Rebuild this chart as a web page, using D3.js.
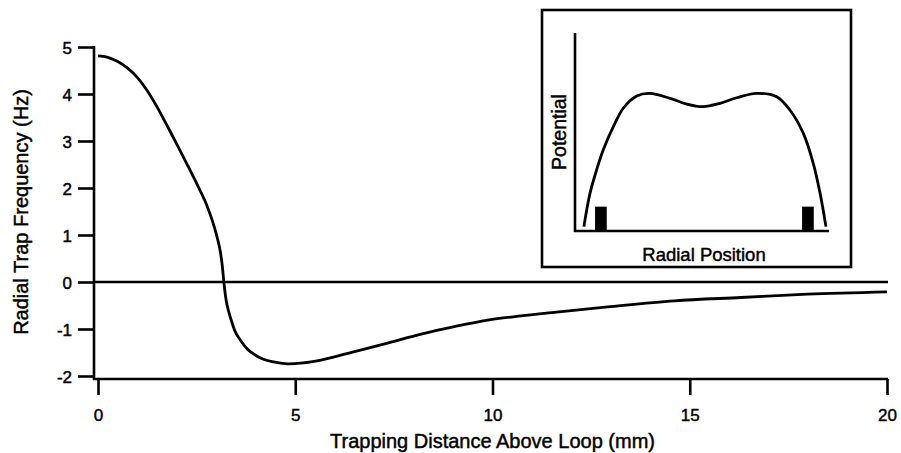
<!DOCTYPE html>
<html><head><meta charset="utf-8">
<script src="https://cdn.jsdelivr.net/npm/d3@7"></script>
<style>
html,body{margin:0;padding:0;background:#fff;}
svg{display:block;}
text{font-family:"Liberation Sans",Arial,Helvetica,sans-serif;fill:#000;stroke:#000;stroke-width:0.45px;}
</style></head>
<body>
<svg id="chart" width="901" height="453"></svg>
<script>
// Main curve: trapping distance (mm) vs radial trap frequency (Hz)
const distance = [0, 0.25, 0.5, 0.75, 1.0, 1.25, 1.5, 1.75, 2.0, 2.25, 2.5, 2.75, 2.9, 3.02, 3.1, 3.15, 3.19, 3.25, 3.31, 3.38, 3.46, 3.62, 3.79, 3.96, 4.21, 4.46, 4.81, 5.2, 5.65, 6.5, 7.34, 8.19, 9.03, 9.88, 10.72, 11.5, 12.92, 14.61, 16.3, 17.99, 20];
const frequency = [4.81, 4.78, 4.69, 4.55, 4.35, 4.07, 3.72, 3.33, 2.93, 2.52, 2.10, 1.65, 1.30, 0.95, 0.65, 0.35, 0.0, -0.4, -0.62, -0.82, -1.02, -1.25, -1.43, -1.54, -1.65, -1.70, -1.74, -1.72, -1.66, -1.48, -1.30, -1.11, -0.95, -0.81, -0.72, -0.65, -0.53, -0.40, -0.33, -0.26, -0.21];
const xTicks = [0, 5, 10, 15, 20];
const yTicks = [-2, -1, 0, 1, 2, 3, 4, 5];
const xTitle = "Trapping Distance Above Loop (mm)";
const yTitle = "Radial Trap Frequency (Hz)";

// Inset: schematic potential vs radial position
const radialPos = [3.5, 5.9, 8.5, 11.1, 15.1, 19.0, 24.3, 29.5, 37.4, 44.0, 50.5, 57.1, 63.7, 71.5, 79.4, 84.6, 89.9, 93.8, 96.5, 98.8];
const potential = [2.2, 19.0, 30.8, 40.9, 52.7, 62.0, 68.2, 69.5, 67.0, 64.1, 62.8, 64.5, 67.3, 69.5, 67.8, 61.1, 49.3, 34.2, 19.0, 2.2];
const barStart = [7.9, 89.4];
const barEnd = [12.5, 94.0];
const barHeight = [12.3, 12.3];
const insetXTitle = "Radial Position";
const insetYTitle = "Potential";

const svg = d3.select("#chart");
const fmt = d => String(d); // plain hyphen for negatives, as in the reference

const x = d3.scaleLinear().domain([0, 20]).range([98, 887]);
const y = d3.scaleLinear().domain([-2, 5]).range([376, 47]);
const axisX0 = 94, axisY0 = 379;
const SW = 2.6;

// axis lines
svg.append("line").attr("x1", axisX0).attr("x2", axisX0).attr("y1", y(5) - 1).attr("y2", axisY0 + 1)
  .style("stroke", "#000").style("stroke-width", SW);
svg.append("line").attr("x1", axisX0 - 1).attr("x2", x(20) + 1).attr("y1", axisY0).attr("y2", axisY0)
  .style("stroke", "#000").style("stroke-width", SW);

// y axis
const gy = svg.append("g").attr("transform", `translate(${axisX0},0)`)
  .call(d3.axisLeft(y).tickValues(yTicks).tickSize(16).tickSizeOuter(0).tickPadding(6).tickFormat(fmt));
gy.select(".domain").remove();
gy.selectAll(".tick line").style("stroke", "#000").style("stroke-width", SW);
gy.selectAll(".tick text").attr("font-size", 17)
  .attr("font-family", "Liberation Sans, Arial, sans-serif").attr("x", -22).attr("dy", "0.36em");

// x axis
const gx = svg.append("g").attr("transform", `translate(0,${axisY0})`)
  .call(d3.axisBottom(x).tickValues(xTicks).tickSize(16).tickSizeOuter(0).tickFormat(fmt));
gx.select(".domain").remove();
gx.selectAll(".tick line").style("stroke", "#000").style("stroke-width", SW);
gx.selectAll(".tick text").attr("font-size", 17)
  .attr("font-family", "Liberation Sans, Arial, sans-serif").attr("y", 42).attr("dy", 0);

// zero line
svg.append("line").attr("x1", axisX0).attr("x2", x(20) + 1).attr("y1", y(0)).attr("y2", y(0))
  .style("stroke", "#000").style("stroke-width", 2.4);

// curve
const pts = distance.map((d, i) => [d, frequency[i]]);
svg.append("path").datum(pts)
  .attr("d", d3.line().x(d => x(d[0])).y(d => y(d[1])).curve(d3.curveMonotoneX))
  .attr("fill", "none").style("stroke", "#000").style("stroke-width", 2.8).attr("stroke-linejoin", "round");

// titles
svg.append("text").attr("x", (x(0) + x(20)) / 2).attr("y", 448).attr("text-anchor", "middle")
  .attr("font-size", 20).text(xTitle);
svg.append("text").attr("transform", "translate(28,212) rotate(-90)").attr("text-anchor", "middle")
  .attr("font-size", 20).text(yTitle);

// inset
svg.append("rect").attr("x", 542).attr("y", 10).attr("width", 309).attr("height", 257)
  .attr("fill", "#fff").style("stroke", "#000").style("stroke-width", SW);
const ix = d3.scaleLinear().domain([0, 100]).range([575, 829]);
const iy = d3.scaleLinear().domain([0, 100]).range([231, 33]);
svg.append("line").attr("x1", ix(0)).attr("x2", ix(0)).attr("y1", iy(100)).attr("y2", iy(0) + 1)
  .style("stroke", "#000").style("stroke-width", SW);
svg.append("line").attr("x1", ix(0) - 1).attr("x2", ix(100)).attr("y1", iy(0)).attr("y2", iy(0))
  .style("stroke", "#000").style("stroke-width", SW);
svg.selectAll("rect.bar").data(barStart).enter().append("rect").attr("class", "bar")
  .attr("x", (d) => ix(d)).attr("width", (d, i) => ix(barEnd[i]) - ix(d))
  .attr("y", (d, i) => iy(barHeight[i])).attr("height", (d, i) => iy(0) - iy(barHeight[i]))
  .attr("fill", "#000");
const ipts = radialPos.map((d, i) => [d, potential[i]]);
svg.append("path").datum(ipts)
  .attr("d", d3.line().x(d => ix(d[0])).y(d => iy(d[1])).curve(d3.curveCatmullRom))
  .attr("fill", "none").style("stroke", "#000").style("stroke-width", 2.8);
svg.append("text").attr("x", (ix(0) + ix(100)) / 2 + 2).attr("y", 261).attr("text-anchor", "middle")
  .attr("font-size", 18.5).text(insetXTitle);
svg.append("text").attr("transform", "translate(566,132) rotate(-90)").attr("text-anchor", "middle")
  .attr("font-size", 19.5).text(insetYTitle);
</script>
</body></html>
